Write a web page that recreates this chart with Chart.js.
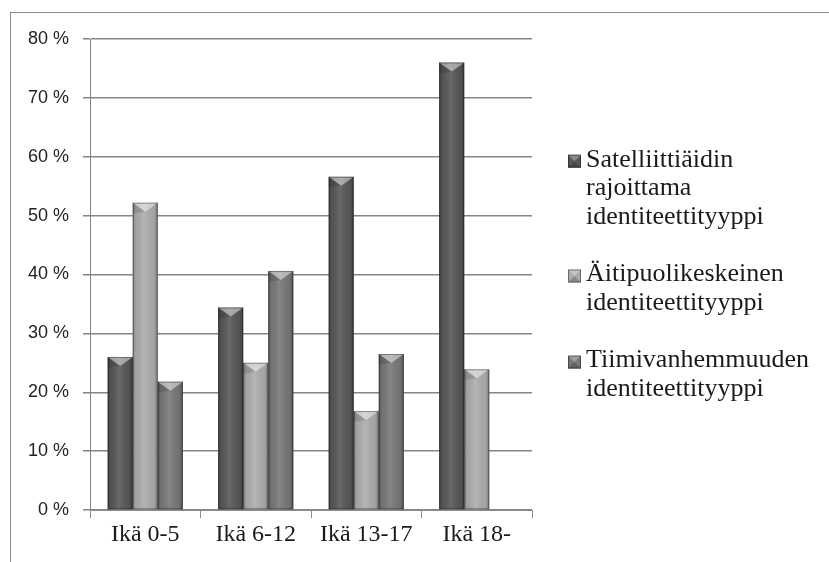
<!DOCTYPE html>
<html>
<head>
<meta charset="utf-8">
<script src="https://cdn.jsdelivr.net/npm/chart.js@4.4.1/dist/chart.umd.min.js"></script>
<style>
  body { margin: 0; background: #fff; }
  #wrap { position: relative; width: 829px; height: 562px; }
</style>
</head>
<body>
<div id="wrap"><canvas id="c" width="829" height="562"></canvas></div>
<script>
const ageGroups = ['Ikä 0-5', 'Ikä 6-12', 'Ikä 13-17', 'Ikä 18-'];
const satelliteValues = [26.0, 34.4, 56.6, 76.0];
const stepMotherValues = [52.2, 25.0, 16.8, 23.9];
const teamParentValues = [21.8, 40.6, 26.5, null];
const yTicks = [0, 10, 20, 30, 40, 50, 60, 70, 80];

const seriesNames = [
  ['Satelliittiäidin', 'rajoittama', 'identiteettityyppi'],
  ['Äitipuolikeskeinen', 'identiteettityyppi'],
  ['Tiimivanhemmuuden', 'identiteettityyppi']
];
const seriesColors = ['#585858', '#adadad', '#787878'];

const serif = '"Liberation Serif", "DejaVu Serif", serif';

// outer frame like the office chart border
const framePlugin = {
  id: 'frame',
  beforeDraw(chart) {
    const ctx = chart.ctx;
    ctx.save();
    ctx.strokeStyle = '#8c8c8c';
    ctx.lineWidth = 1;
    ctx.strokeRect(10.5, 12.5, 900, 900);
    ctx.restore();
  }
};

// shading + bevelled top on each bar
const bevelPlugin = {
  id: 'bevel',
  afterDatasetsDraw(chart) {
    const ctx = chart.ctx;
    chart.data.datasets.forEach((ds, i) => {
      const meta = chart.getDatasetMeta(i);
      meta.data.forEach((bar, j) => {
        if (ds.data[j] == null) return;
        const p = bar.getProps(['x', 'y', 'base', 'width'], true);
        const l = p.x - p.width / 2, r = p.x + p.width / 2;
        ctx.save();
        const g = ctx.createLinearGradient(l, 0, r, 0);
        g.addColorStop(0, 'rgba(0,0,0,0.28)');
        g.addColorStop(0.12, 'rgba(0,0,0,0.05)');
        g.addColorStop(0.45, 'rgba(255,255,255,0.10)');
        g.addColorStop(0.85, 'rgba(0,0,0,0.05)');
        g.addColorStop(1, 'rgba(0,0,0,0.30)');
        ctx.fillStyle = g;
        ctx.fillRect(l, p.y, p.width, p.base - p.y);
        // top bevel
        const h = 9;
        ctx.beginPath();
        ctx.moveTo(l, p.y);
        ctx.lineTo(r, p.y);
        ctx.lineTo(p.x, p.y + h);
        ctx.closePath();
        ctx.fillStyle = 'rgba(255,255,255,0.45)';
        ctx.fill();
        ctx.beginPath();
        ctx.moveTo(l, p.y);
        ctx.lineTo(p.x, p.y + h);
        ctx.lineTo(l, p.y + h + 2);
        ctx.closePath();
        ctx.fillStyle = 'rgba(0,0,0,0.12)';
        ctx.fill();
        ctx.strokeStyle = 'rgba(0,0,0,0.35)';
        ctx.lineWidth = 1;
        ctx.strokeRect(l + 0.5, p.y + 0.5, p.width - 1, p.base - p.y - 1);
        ctx.restore();
      });
    });
  }
};

// legend at the right, wrapped lines
const sideLegend = {
  id: 'sideLegend',
  afterDraw(chart) {
    const ctx = chart.ctx;
    const lineH = 28.7;
    const total = seriesNames.reduce((s, n) => s + n.length, 0) + seriesNames.length - 1;
    const mid = (chart.chartArea.top + chart.chartArea.bottom) / 2;
    let y = mid - (total * lineH) / 2 + lineH / 2;
    ctx.save();
    ctx.font = '26px ' + serif;
    ctx.textBaseline = 'middle';
    seriesNames.forEach((lines, i) => {
      const bx = 568, by = y - 5, bs = 13;
      ctx.fillStyle = seriesColors[i];
      ctx.fillRect(bx, by, bs, bs);
      ctx.beginPath();
      ctx.moveTo(bx, by); ctx.lineTo(bx + bs, by); ctx.lineTo(bx + bs / 2, by + bs / 2); ctx.closePath();
      ctx.fillStyle = 'rgba(255,255,255,0.3)';
      ctx.fill();
      ctx.beginPath();
      ctx.moveTo(bx, by + bs); ctx.lineTo(bx + bs, by + bs); ctx.lineTo(bx + bs / 2, by + bs / 2); ctx.closePath();
      ctx.fillStyle = 'rgba(0,0,0,0.2)';
      ctx.fill();
      ctx.strokeStyle = 'rgba(0,0,0,0.4)';
      ctx.strokeRect(bx + 0.5, by + 0.5, bs - 1, bs - 1);
      ctx.fillStyle = '#1a1a1a';
      lines.forEach(t => {
        ctx.fillText(t, 586, y);
        y += lineH;
      });
      y += lineH;
    });
    ctx.restore();
  }
};

new Chart(document.getElementById('c'), {
  type: 'bar',
  data: {
    labels: ageGroups,
    datasets: [
      { label: seriesNames[0].join(' '), data: satelliteValues, backgroundColor: seriesColors[0] },
      { label: seriesNames[1].join(' '), data: stepMotherValues, backgroundColor: seriesColors[1] },
      { label: seriesNames[2].join(' '), data: teamParentValues, backgroundColor: seriesColors[2] }
    ]
  },
  options: {
    responsive: false,
    animation: false,
    layout: { padding: { left: 0, right: 297, top: 39, bottom: 0 } },
    datasets: { bar: { categoryPercentage: 0.68, barPercentage: 1.0 } },
    plugins: { legend: { display: false }, tooltip: { enabled: false } },
    scales: {
      x: {
        offset: true,
        grid: { offset: true, drawOnChartArea: false, tickLength: 8, color: '#8c8c8c' },
        border: { color: '#8c8c8c' },
        ticks: { font: { family: serif, size: 24 }, color: '#1a1a1a', padding: 2 },
        afterFit(scale) { scale.height = 52; }
      },
      y: {
        min: 0,
        max: 80,
        afterBuildTicks(scale) { scale.ticks = yTicks.map(v => ({ value: v })); },
        ticks: {
          callback: v => v + ' %',
          font: { family: '"Liberation Sans", Arial, sans-serif', size: 18 },
          color: '#222',
          padding: 14
        },
        grid: { color: '#858585', lineWidth: 1.5, tickLength: 7 },
        border: { color: '#858585' },
        afterFit(scale) { scale.width = 90; }
      }
    }
  },
  plugins: [framePlugin, bevelPlugin, sideLegend]
});
</script>
</body>
</html>
